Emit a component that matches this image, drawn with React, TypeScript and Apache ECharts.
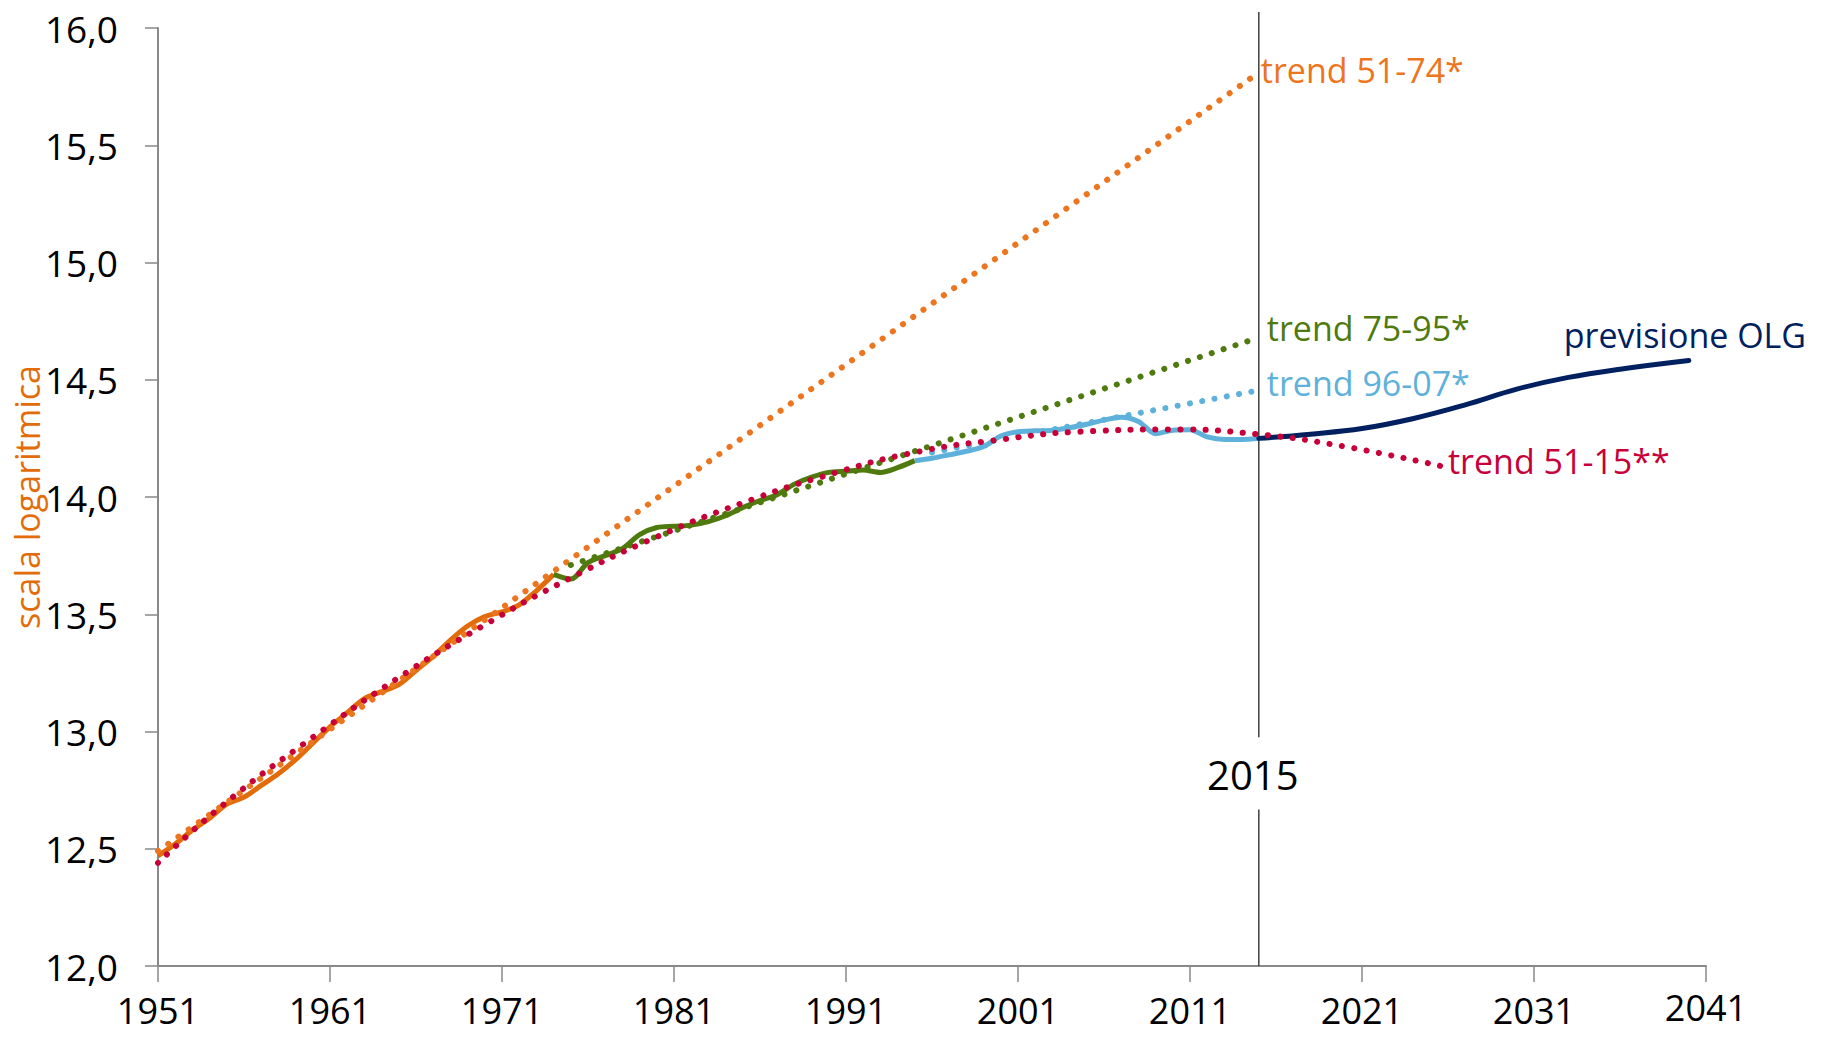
import React, { useEffect, useRef } from "react";
import * as echarts from "echarts";

// ---- data ----
const xTicks = [1951, 1961, 1971, 1981, 1991, 2001, 2011, 2021, 2031, 2041];

const orangeYears = [1951, 1952, 1953, 1954, 1955, 1956, 1957, 1958, 1959, 1960, 1961, 1962, 1963, 1964, 1965, 1966, 1967, 1968, 1969, 1970, 1971, 1972, 1973, 1974];
const orangeVals = [12.47, 12.52, 12.58, 12.63, 12.69, 12.72, 12.77, 12.82, 12.88, 12.95, 13.02, 13.08, 13.14, 13.17, 13.2, 13.26, 13.32, 13.39, 13.45, 13.49, 13.51, 13.54, 13.6, 13.67];

const greenYears = [1974, 1975, 1976, 1977, 1978, 1979, 1980, 1981, 1982, 1983, 1984, 1985, 1986, 1987, 1988, 1989, 1990, 1991, 1992, 1993, 1994, 1995];
const greenVals = [13.67, 13.65, 13.72, 13.75, 13.78, 13.84, 13.87, 13.875, 13.88, 13.895, 13.92, 13.955, 13.985, 14.01, 14.055, 14.085, 14.105, 14.11, 14.115, 14.105, 14.125, 14.155];

const blueYears = [1995, 1996, 1997, 1998, 1999, 2000, 2001, 2002, 2003, 2004, 2005, 2006, 2007, 2008, 2009, 2010, 2011, 2012, 2013, 2014, 2015];
const blueVals = [14.155, 14.165, 14.18, 14.195, 14.215, 14.26, 14.278, 14.282, 14.285, 14.295, 14.31, 14.328, 14.34, 14.322, 14.27, 14.285, 14.287, 14.256, 14.245, 14.245, 14.25];

const olgYears = [2015, 2018, 2021, 2024, 2027, 2030, 2033, 2036, 2040];
const olgVals = [14.25, 14.268, 14.292, 14.335, 14.393, 14.46, 14.51, 14.545, 14.582];

const trend5174Years = [1951, 2015];
const trend5174Vals = [12.49, 15.81];

const trend7595Years = [1975, 2015];
const trend7595Vals = [13.71, 14.68];

const trend9607Years = [1996, 2015];
const trend9607Vals = [14.19, 14.455];

const trend5115Years = [1951, 1955, 1960, 1965, 1970, 1975, 1980, 1985, 1990, 1995, 2000, 2005, 2010, 2015, 2020, 2026];
const trend5115Vals = [12.44, 12.7, 12.975, 13.23, 13.455, 13.655, 13.83, 13.975, 14.095, 14.19, 14.245, 14.28, 14.288, 14.267, 14.215, 14.125];

// vertical marker at 2015: line segments (broken around the label) and label position
const markYear = 2015;
const markLineVals = [12, 12.667, null, 12.975, 16.068];
const markLabelVal = 12.816;

const C = {
  orange: "#E36C0A",
  orangeDot: "#EC7520",
  green: "#4E7A0E",
  blue: "#5EB1DA",
  navy: "#002060",
  red: "#C8003A",
  axis: "#898989",
  mark: "#404040",
};

const pairs = (xs: number[], ys: (number | null)[]) => xs.map((x, i) => [x, ys[i]]);
const FONT = '"Open Sans", "Noto Sans", sans-serif';

const dotted = (color: string) => ({
  color,
  width: 6,
  type: [0.1, 12.4] as any,
  cap: "round" as const,
});

const endLabel = (text: string, color: string, offset: number[]) => ({
  show: true,
  formatter: text,
  color,
  fontSize: 34,
  fontFamily: FONT,
  distance: 0,
  offset,
  align: "left",
  verticalAlign: "middle",
});

export default function App() {
  const ref = useRef<HTMLDivElement>(null);
  useEffect(() => {
    if (!ref.current) return;
    const chart = echarts.init(ref.current, undefined, { renderer: "svg" });
    const option: any = {
      animation: false,
      backgroundColor: "#ffffff",
      grid: { left: 158, right: 115, top: 28, bottom: 71, containLabel: false, outerBoundsMode: "none" },
      xAxis: {
        type: "value",
        min: 1951,
        max: 2041,
        splitLine: { show: false },
        axisLine: { show: true, onZero: false, lineStyle: { color: C.axis, width: 2 } },
        axisTick: { show: true, customValues: xTicks, length: 16, lineStyle: { color: C.axis, width: 1.5 } },
        axisLabel: {
          customValues: xTicks,
          margin: 29,
          formatter: (v: number) => (v === 2041 ? `{up|${v}}` : `{n|${v}}`),
          rich: {
            n: { fontSize: 36, lineHeight: 24, fontFamily: FONT, color: "#000", padding: [7, 0, 0, 0] },
            up: { fontSize: 36, lineHeight: 24, fontFamily: FONT, color: "#000", padding: [0, 0, 0, 0] },
          },
        },
      },
      yAxis: {
        type: "value",
        min: 12,
        max: 16,
        interval: 0.5,
        splitLine: { show: false },
        name: "scala logaritmica",
        nameLocation: "middle",
        nameRotate: 90,
        nameGap: 114,
        nameMoveOverlap: false,
        nameTextStyle: { color: C.orange, fontSize: 34, fontFamily: FONT },
        axisLine: { show: true, lineStyle: { color: C.axis, width: 2 } },
        axisTick: { show: true, length: 13, lineStyle: { color: C.axis, width: 1.5 } },
        axisLabel: {
          margin: 40,
          fontSize: 37,
          fontFamily: FONT,
          color: "#000",
          formatter: (v: number) => v.toFixed(1).replace(".", ","),
        },
      },
      series: [
        {
          type: "line",
          name: "2015",
          data: markLineVals.map((v) => [markYear, v]),
          showSymbol: false,
          symbol: "none",
          clip: false,
          connectNulls: false,
          silent: true,
          lineStyle: { color: C.mark, width: 1.5 },
          markPoint: {
            silent: true,
            data: [
              {
                coord: [markYear, markLabelVal],
                symbol: "rect",
                symbolSize: 1,
                itemStyle: { color: "rgba(0,0,0,0)" },
                label: {
                  show: true,
                  position: "inside",
                  offset: [-6, 0],
                  formatter: String(markYear),
                  color: "#000",
                  fontSize: 40,
                  fontFamily: FONT,
                },
              },
            ],
          },
        },
        {
          type: "line",
          name: "actual 51-74",
          data: pairs(orangeYears, orangeVals),
          showSymbol: false,
          symbol: "none",
          smooth: 0.3,
          lineStyle: { color: C.orange, width: 5 },
        },
        {
          type: "line",
          name: "actual 75-95",
          data: pairs(greenYears, greenVals),
          showSymbol: false,
          symbol: "none",
          smooth: 0.3,
          lineStyle: { color: C.green, width: 5 },
        },
        {
          type: "line",
          name: "actual 96-15",
          data: pairs(blueYears, blueVals),
          showSymbol: false,
          symbol: "none",
          smooth: 0.3,
          lineStyle: { color: C.blue, width: 5 },
        },
        {
          type: "line",
          name: "trend 51-74*",
          data: pairs(trend5174Years, trend5174Vals),
          showSymbol: false,
          symbol: "none",
          lineStyle: dotted(C.orangeDot),
          endLabel: endLabel("trend 51-74*", C.orangeDot, [2, -3]),
        },
        {
          type: "line",
          name: "trend 75-95*",
          data: pairs(trend7595Years, trend7595Vals),
          showSymbol: false,
          symbol: "none",
          lineStyle: dotted(C.green),
          endLabel: endLabel("trend 75-95*", C.green, [8, -10]),
        },
        {
          type: "line",
          name: "trend 96-07*",
          data: pairs(trend9607Years, trend9607Vals),
          showSymbol: false,
          symbol: "none",
          lineStyle: dotted(C.blue),
          endLabel: endLabel("trend 96-07*", C.blue, [8, -7]),
        },
        {
          type: "line",
          name: "previsione OLG",
          data: pairs(olgYears, olgVals),
          showSymbol: false,
          symbol: "none",
          smooth: 0.4,
          lineStyle: { color: C.navy, width: 5, cap: "round" },
          endLabel: endLabel("previsione OLG", C.navy, [-125, -26]),
        },
        {
          type: "line",
          name: "trend 51-15**",
          data: pairs(trend5115Years, trend5115Vals),
          showSymbol: false,
          symbol: "none",
          smooth: 0.5,
          lineStyle: dotted(C.red),
          endLabel: endLabel("trend 51-15**", C.red, [0, -7]),
        },
      ],
    };
    chart.setOption(option);
    return () => chart.dispose();
  }, []);
  return (
    <div
      ref={ref}
      style={{ position: "fixed", left: 0, top: 0, width: 1821, height: 1037, background: "#fff" }}
    />
  );
}
